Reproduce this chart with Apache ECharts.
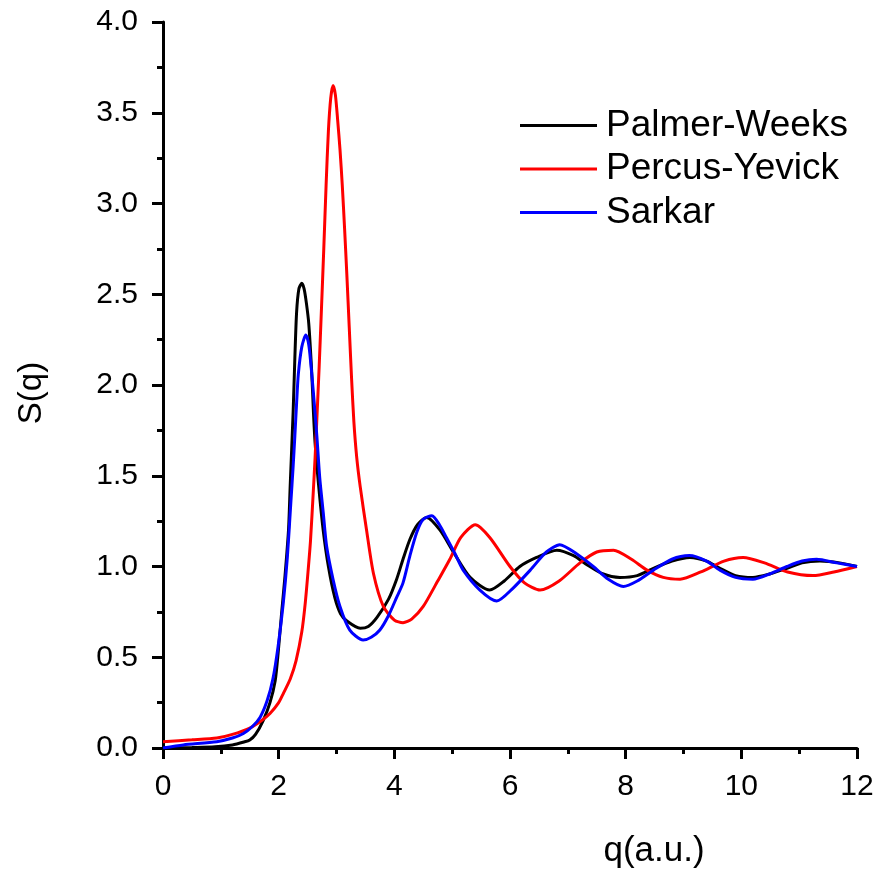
<!DOCTYPE html>
<html>
<head>
<meta charset="utf-8">
<script src="https://cdn.jsdelivr.net/npm/echarts@6/dist/echarts.min.js"></script>
<style>html,body{margin:0;padding:0;background:#fff}#c{width:885px;height:877px}</style>
</head>
<body>
<div id="c"></div>
<script>
var seriesNames = ['Palmer-Weeks', 'Percus-Yevick', 'Sarkar'];
var xTicks = [0, 2, 4, 6, 8, 10, 12];
var yTicks = ['0.0','0.5','1.0','1.5','2.0','2.5','3.0','3.5','4.0'];

var palmerWeeks = [[0,0.0],[0.5,0.003],[0.9,0.007],[1.2,0.017],[1.4,0.033],[1.5,0.044],[1.6,0.075],[1.73,0.15],[1.85,0.25],[1.94,0.37],[1.99,0.52],[2.05,0.74],[2.11,0.95],[2.17,1.2],[2.2,1.45],[2.25,1.85],[2.28,2.15],[2.31,2.4],[2.35,2.53],[2.40,2.56],[2.44,2.53],[2.48,2.45],[2.52,2.34],[2.57,2.08],[2.60,1.86],[2.63,1.68],[2.69,1.45],[2.77,1.20],[2.86,1.0],[2.97,0.83],[3.07,0.74],[3.18,0.70],[3.41,0.66],[3.55,0.67],[3.70,0.72],[3.9,0.82],[4.04,0.93],[4.15,1.04],[4.27,1.15],[4.4,1.23],[4.56,1.27],[4.79,1.20],[5.02,1.08],[5.31,0.94],[5.65,0.87],[5.9,0.92],[6.17,1.0],[6.46,1.05],[6.81,1.09],[7.1,1.06],[7.33,1.01],[7.6,0.96],[7.9,0.94],[8.2,0.95],[8.48,0.99],[8.8,1.03],[9.11,1.05],[9.4,1.03],[9.63,0.99],[9.9,0.95],[10.2,0.94],[10.5,0.96],[10.79,0.99],[11.05,1.02],[11.36,1.03],[11.7,1.02],[12,1.0]];

var percusYevick = [[0,0.035],[0.5,0.045],[0.93,0.055],[1.2,0.075],[1.5,0.11],[1.7,0.15],[1.85,0.19],[2.0,0.25],[2.08,0.30],[2.2,0.38],[2.3,0.48],[2.4,0.64],[2.46,0.80],[2.51,0.98],[2.55,1.14],[2.60,1.42],[2.63,1.60],[2.66,1.81],[2.70,2.10],[2.74,2.42],[2.78,2.75],[2.82,3.10],[2.86,3.40],[2.90,3.58],[2.94,3.65],[2.98,3.60],[3.02,3.46],[3.06,3.30],[3.10,3.10],[3.14,2.86],[3.18,2.60],[3.22,2.32],[3.26,2.04],[3.30,1.80],[3.35,1.60],[3.41,1.44],[3.52,1.20],[3.64,0.96],[3.81,0.78],[4.0,0.705],[4.15,0.69],[4.3,0.71],[4.5,0.78],[4.75,0.92],[4.96,1.04],[5.15,1.16],[5.40,1.23],[5.65,1.16],[6.0,1.0],[6.25,0.91],[6.52,0.87],[6.85,0.92],[7.21,1.02],[7.5,1.08],[7.79,1.09],[8.1,1.04],[8.37,0.98],[8.65,0.94],[8.94,0.93],[9.3,0.97],[9.7,1.03],[10.03,1.05],[10.4,1.02],[10.8,0.97],[11.24,0.95],[11.6,0.97],[12,1.0]];

var sarkar = [[0,0.0],[0.35,0.017],[0.93,0.035],[1.2,0.055],[1.39,0.08],[1.55,0.12],[1.68,0.17],[1.8,0.26],[1.9,0.38],[1.99,0.56],[2.08,0.80],[2.15,1.05],[2.21,1.35],[2.25,1.55],[2.28,1.72],[2.31,1.90],[2.34,2.06],[2.40,2.21],[2.47,2.275],[2.51,2.24],[2.54,2.17],[2.60,1.96],[2.66,1.72],[2.71,1.49],[2.77,1.30],[2.83,1.11],[2.94,0.93],[3.06,0.78],[3.23,0.65],[3.46,0.595],[3.6,0.61],[3.75,0.65],[3.9,0.73],[4.04,0.83],[4.15,0.91],[4.27,1.06],[4.39,1.19],[4.5,1.26],[4.65,1.28],[4.78,1.23],[4.9,1.16],[5.05,1.07],[5.19,0.98],[5.48,0.87],[5.77,0.81],[6.05,0.88],[6.35,0.98],[6.63,1.08],[6.86,1.12],[7.15,1.07],[7.44,1.0],[7.7,0.93],[7.96,0.89],[8.2,0.92],[8.48,0.98],[8.8,1.04],[9.1,1.06],[9.4,1.03],[9.63,0.98],[9.9,0.94],[10.2,0.93],[10.5,0.96],[10.79,1.0],[11.05,1.03],[11.3,1.04],[11.65,1.02],[12,1.0]];

var colors = ['#000000', '#ff0000', '#0000ff'];
var sans = "'Liberation Sans', Arial, sans-serif";

var chart = echarts.init(document.getElementById('c'), null, {renderer: 'canvas'});
var data = [palmerWeeks, percusYevick, sarkar];
chart.setOption({
  animation: false,
  backgroundColor: '#fff',
  grid: {left: 163, top: 22, width: 694, height: 726, containLabel: false},
  legend: {
    orient: 'vertical', left: 515, top: 102,
    icon: 'rect', itemWidth: 77, itemHeight: 3, itemGap: 6.5,
    textStyle: {fontFamily: sans, fontSize: 37, color: '#000', lineHeight: 37, padding: [0,0,0,4]},
    data: seriesNames
  },
  xAxis: {
    type: 'value', min: xTicks[0], max: xTicks[xTicks.length-1], interval: 2,
    name: 'q(a.u.)', nameLocation: 'middle', nameGap: 86,
    nameTextStyle: {fontFamily: sans, fontSize: 35, color: '#000', padding: [0,0,0,288]},
    axisLine: {lineStyle: {color: '#000', width: 3}},
    axisTick: {inside: false, length: 11, lineStyle: {color: '#000', width: 3}},
    minorTick: {show: true, splitNumber: 2, length: 6, lineStyle: {color: '#000', width: 3}},
    axisLabel: {fontFamily: sans, fontSize: 30, color: '#000', margin: 24},
    splitLine: {show: false}
  },
  yAxis: {
    type: 'value', min: 0, max: 4, interval: 0.5,
    name: 'S(q)', nameLocation: 'middle', nameGap: 115, nameRotate: 90,
    nameTextStyle: {fontFamily: sans, fontSize: 33, color: '#000', padding: [0,16,0,0]},
    axisLine: {lineStyle: {color: '#000', width: 3}},
    axisTick: {inside: false, length: 11, lineStyle: {color: '#000', width: 3}},
    minorTick: {show: true, splitNumber: 2, length: 6, lineStyle: {color: '#000', width: 3}},
    axisLabel: {fontFamily: sans, fontSize: 30, color: '#000', margin: 25,
      formatter: function (v) { var i = Math.round(v / 0.5); return yTicks[i] !== undefined ? yTicks[i] : v.toFixed(1); }},
    splitLine: {show: false}
  },
  series: seriesNames.map(function (n, i) {
    return {
      name: n, type: 'line', data: data[i], showSymbol: false, symbol: 'none',
      smooth: 0.25, clip: true,
      lineStyle: {color: colors[i], width: 3}, itemStyle: {color: colors[i]}
    };
  })
});
</script>
</body>
</html>
